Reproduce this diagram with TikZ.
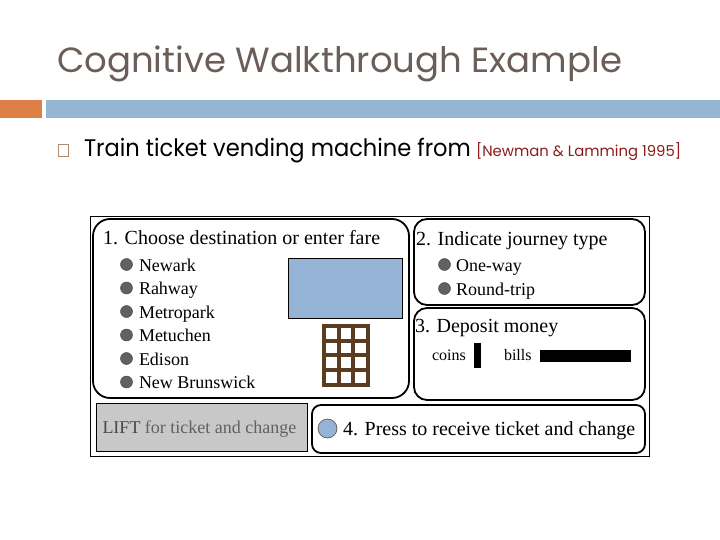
\documentclass[tikz,border=0pt]{standalone}
\usepackage{fontspec}
\setmainfont{Liberation Serif}
\newfontfamily\advfont{Poppins}
\definecolor{titlegray}{HTML}{6B5E58}
\definecolor{accorange}{HTML}{DD8047}
\definecolor{accblue}{HTML}{94B6D2}
\definecolor{citered}{HTML}{8E1B1B}
\definecolor{sqbrown}{HTML}{B08A6A}
\definecolor{dispblue}{HTML}{95B3D5}
\definecolor{keybrown}{HTML}{5A3C20}
\definecolor{liftgray}{HTML}{C8C8C8}
\tikzset{
  txt/.style={anchor=base west, inner sep=0pt, outer sep=0pt},
  panel/.style={draw=black, line width=1.8pt, rounded corners=13pt},
  knob/.style={circle, fill=black!62, draw=black!75, line width=0.4pt, minimum size=12pt, inner sep=0pt},
}
\begin{document}
\begin{tikzpicture}[x=1pt,y=-1pt]
\useasboundingbox (0,0) rectangle (720,540);
\fill[white] (0,0) rectangle (720,540);
% header
\node[txt, text=titlegray, font=\advfont\fontsize{35}{40}\selectfont] (title) at (57,73) {\scalebox{1.014}[1]{Cognitive Walkthrough Example}};
\fill[accorange] (0,100) rectangle (42,118);
\fill[accblue] (46,100) rectangle (720,118);
\draw[sqbrown, line width=0.7pt] (58,144.5) rectangle (68.5,156.5);
\node[txt, font=\advfont\fontsize{24}{28}\selectfont] (sub) at (84,157) {\scalebox{0.94}[1]{Train ticket vending machine from}};
\node[txt, text=citered, font=\advfont\fontsize{15}{18}\selectfont] (cite) at (476,157) {\scalebox{0.99}[1]{[Newman \& Lamming 1995]}};
% frame
\draw[line width=0.8pt] (90.5,216) rectangle (649,456);
% panel 1
\draw[panel, rounded corners=17pt] (93,219) rectangle (409,398);
\node[txt, font=\fontsize{20}{22}\selectfont] (h1) at (103,244) {1. Choose destination or enter fare};
\foreach \t [count=\i] in {Newark,Rahway,Metropark,Metuchen,Edison,New Brunswick}{
  \node[knob] (k\i) at (126.5,{271+23.5*(\i-1)-6.5}) {};
  \node[txt, font=\fontsize{18}{20}\selectfont] (s\i) at (139,{271+23.5*(\i-1)}) {\t};
}
\draw[fill=dispblue, line width=0.6pt] (288,258) rectangle (402,318);
\fill[keybrown] (322,324) rectangle (370,387);
\foreach \c in {0,1,2}{\foreach \r in {0,1,2,3}{
  \fill[white] ({325.7+\c*14.8},{327.7+\r*14.8}) rectangle ({336.5+\c*14.8},{338.5+\r*14.8});
}}
% panel 2
\draw[panel] (414,219) rectangle (645,305);
\node[txt, font=\fontsize{20}{22}\selectfont] (h2) at (416,245) {2. Indicate journey type};
\node[knob] (o1) at (444.5,264.5) {};
\node[txt, font=\fontsize{18}{20}\selectfont] (t1) at (456,271) {One-way};
\node[knob] (o2) at (444.5,288.5) {};
\node[txt, font=\fontsize{18}{20}\selectfont] (t2) at (456,295) {Round-trip};
% panel 3
\draw[panel] (414,308) rectangle (645,400);
\node[txt, font=\fontsize{20}{22}\selectfont] (h3) at (415,332) {3. Deposit money};
\node[txt, font=\fontsize{16}{18}\selectfont] (coins) at (432,360) {coins};
\fill (474,343) rectangle (481,368);
\node[txt, font=\fontsize{16}{18}\selectfont] (bills) at (504,360) {bills};
\fill (540,350) rectangle (631,362);
% lift
\draw[fill=liftgray, line width=0.8pt] (96,403) rectangle (307,451);
\node[txt, font=\fontsize{18}{20}\selectfont] (lift) at (102.5,433) {\textcolor{black!72}{LIFT} \textcolor{black!62}{for ticket and change}};
% panel 4
\draw[panel, rounded corners=9pt] (312,405) rectangle (645,453);
\node[circle, fill=dispblue, draw=black!70, line width=0.6pt, minimum size=19pt, inner sep=0pt] (btn) at (327.5,428.5) {};
\node[txt, font=\fontsize{20}{22}\selectfont] (h4) at (343,435) {4. Press to receive ticket and change};
\end{tikzpicture}
\end{document}
